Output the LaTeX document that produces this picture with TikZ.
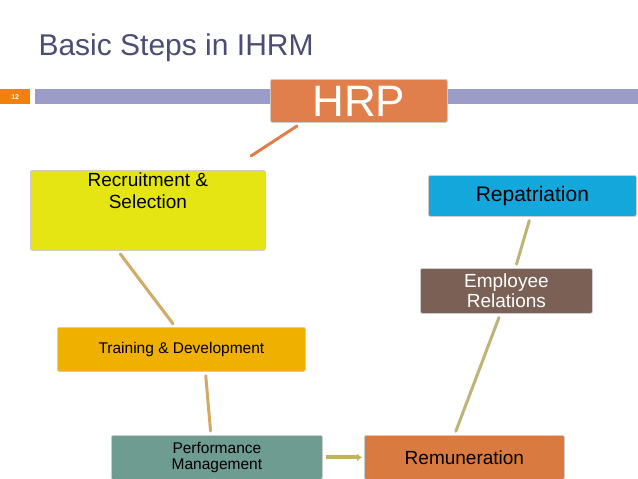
\documentclass[tikz,border=0pt]{standalone}
\usepackage{fontspec}
\setmainfont{Liberation Sans}
\usetikzlibrary{arrows.meta}
\begin{document}
\begin{tikzpicture}[x=1pt,y=-1pt,
 box/.style={draw=gray!40,line width=0.8pt,rounded corners=2pt,inner sep=0pt,anchor=north west,align=center},
 link/.style={line width=3pt,line cap=round,shorten >=4pt,shorten <=4pt}]
\useasboundingbox (0,0) rectangle (638,479);
\fill[white] (0,0) rectangle (638,479);
\node[anchor=base west,text=black!60!blue!40!gray,font=\fontsize{30}{30}\selectfont] (title) at (35,56) {Basic Steps in IHRM};
\fill[blue!30!gray!60!white] (35,89) rectangle (638,104);
\node[fill=orange!80!brown,text=white,minimum width=30pt,minimum height=15pt,inner sep=0pt,anchor=north west,font=\fontsize{7}{7}\selectfont\bfseries] (num) at (0,89) {12};
\node[box,fill={rgb,255:red,224;green,127;blue,75},text=white,minimum width=177pt,minimum height=43pt,font=\fontsize{44}{44}\selectfont] (hrp) at (270,79) {HRP};
\node[box,fill={rgb,255:red,229;green,229;blue,20},minimum width=235pt,minimum height=80pt,font=\fontsize{19}{22}\selectfont] (rec) at (30,170) {Recruitment \&\\Selection\\[18pt]};
\node[box,fill={rgb,255:red,20;green,167;blue,220},minimum width=208pt,minimum height=41pt,font=\fontsize{21}{21}\selectfont] (rep) at (428,175) {Repatriation};
\node[box,fill={rgb,255:red,122;green,96;blue,85},text=white,minimum width=172pt,minimum height=45pt,font=\fontsize{19}{20}\selectfont] (emp) at (420,268) {Employee\\Relations};
\node[box,fill={rgb,255:red,240;green,176;blue,0},minimum width=248pt,minimum height=44pt,font=\fontsize{15.5}{16}\selectfont] (tra) at (57,327) {Training \& Development};
\node[box,fill={rgb,255:red,110;green,156;blue,144},minimum width=211pt,minimum height=44pt,font=\fontsize{15.5}{16}\selectfont] (per) at (111,435) {Performance\\Management};
\node[box,fill={rgb,255:red,217;green,122;blue,64},minimum width=200pt,minimum height=44pt,font=\fontsize{19}{20}\selectfont] (rem) at (364,435) {Remuneration};
\coordinate (h1) at (297,126); \coordinate (h2) at (251,156);
\draw[link,shorten <=0pt,shorten >=0pt,draw={rgb,255:red,224;green,127;blue,75}] (h1) -- (h2);
\draw[link,draw={rgb,255:red,210;green,170;blue,100}] ([xshift=-30pt]rec.south) -- ([xshift=-6pt]tra.north);
\draw[link,draw={rgb,255:red,210;green,170;blue,100}] ([xshift=24pt]tra.south) -- ([xshift=-6pt]per.north);
\draw[link,draw={rgb,255:red,190;green,180;blue,120}] ([xshift=-10pt]rem.north) -- ([xshift=-6pt]emp.south);
\draw[link,draw={rgb,255:red,190;green,180;blue,120}] ([xshift=9pt]emp.north) -- ([xshift=-2pt]rep.south);
\draw[line width=4pt,draw={rgb,255:red,190;green,180;blue,90},-{Latex[length=5pt,width=8pt]},shorten <=3pt,shorten >=2pt] (per.east) -- (rem.west);
\end{tikzpicture}
\end{document}
